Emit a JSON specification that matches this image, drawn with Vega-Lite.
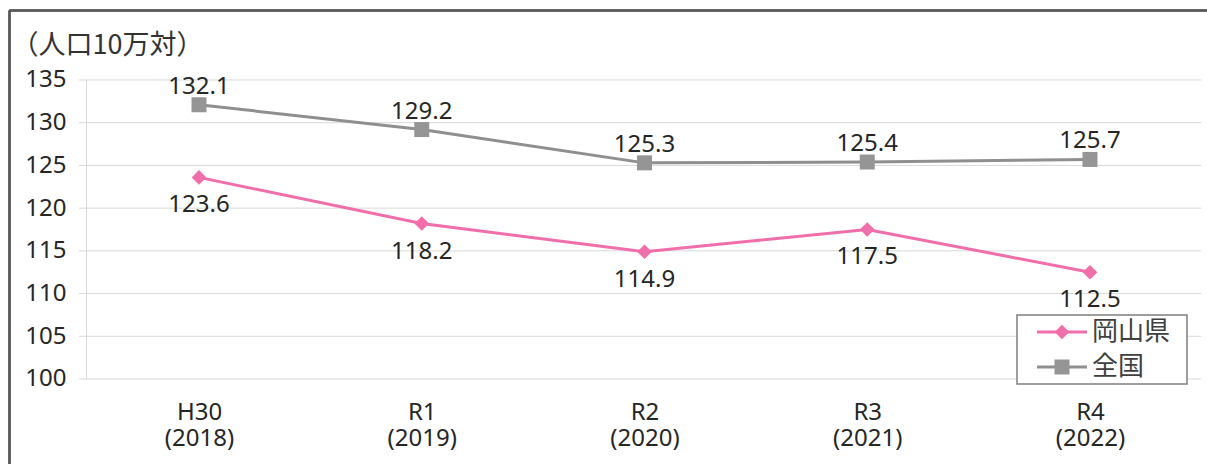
{
  "$schema": "https://vega.github.io/schema/vega-lite/v6.json",
  "width": 1207,
  "height": 464,
  "autosize": {"type": "none"},
  "padding": 0,
  "background": "white",
  "config": {"view": {"stroke": null}, "font": "Noto Sans, Noto Sans CJK JP"},
  "datasets": {
    "main": [
      {"i": 0, "period": "H30", "series": "岡山県", "value": 123.6},
      {"i": 1, "period": "R1", "series": "岡山県", "value": 118.2},
      {"i": 2, "period": "R2", "series": "岡山県", "value": 114.9},
      {"i": 3, "period": "R3", "series": "岡山県", "value": 117.5},
      {"i": 4, "period": "R4", "series": "岡山県", "value": 112.5},
      {"i": 0, "period": "H30", "series": "全国", "value": 132.1},
      {"i": 1, "period": "R1", "series": "全国", "value": 129.2},
      {"i": 2, "period": "R2", "series": "全国", "value": 125.3},
      {"i": 3, "period": "R3", "series": "全国", "value": 125.4},
      {"i": 4, "period": "R4", "series": "全国", "value": 125.7}
    ],
    "grid": [{"v": 100}, {"v": 105}, {"v": 110}, {"v": 115}, {"v": 120}, {"v": 125}, {"v": 130}, {"v": 135}],
    "legend": [{"series": "岡山県"}, {"series": "全国"}]
  },
  "layer": [
    {
      "data": {"name": "grid"},
      "mark": {"type": "rule", "color": "#d9d9d9", "strokeWidth": 1},
      "encoding": {
        "y": {
          "field": "v", "type": "quantitative",
          "scale": {"domain": [90.05, 144.364], "nice": false, "zero": false},
          "axis": {
            "orient": "left", "offset": -66, "values": [100, 105, 110, 115, 120, 125, 130, 135],
            "format": "d", "domain": false, "ticks": false, "tickSize": 0, "grid": false,
            "labelPadding": 0, "labelFont": "Noto Sans", "labelFontSize": 24, "labelColor": "#262626", "labelBaseline": "middle",
            "title": "（人口10万対）", "titleAngle": 0, "titleX": -55, "titleY": 45,
            "titleAlign": "left", "titleBaseline": "middle", "titleFont": "Noto Sans CJK JP", "titleFontSize": 27,
            "titleFontWeight": "normal", "titleColor": "#333333"
          }
        },
        "x": {
          "datum": -0.539, "type": "quantitative",
          "scale": {"domain": [-0.8934, 4.5253], "nice": false, "zero": false},
          "axis": {
            "orient": "bottom", "offset": -85, "values": [0, 1, 2, 3, 4],
            "labelExpr": "datum.value == 0 ? ['H30', '(2018)'] : datum.value == 1 ? ['R1', '(2019)'] : datum.value == 2 ? ['R2', '(2020)'] : datum.value == 3 ? ['R3', '(2021)'] : ['R4', '(2022)']",
            "domain": false, "ticks": false, "tickSize": 0, "grid": false,
            "labelPadding": 21, "labelFont": "Noto Sans", "labelFontSize": 24, "labelLineHeight": 26, "labelBaseline": "top",
            "labelAlign": "center", "labelColor": "#262626", "title": null
          }
        },
        "x2": {"datum": 4.5}
      }
    },
    {
      "data": {"name": "grid"},
      "mark": {"type": "rule", "color": "#d9d9d9", "strokeWidth": 1},
      "encoding": {
        "x": {"datum": -0.505, "type": "quantitative"},
        "y": {"datum": 100, "type": "quantitative"},
        "y2": {"datum": 135}
      }
    },
    {
      "data": {"name": "grid"},
      "mark": {"type": "rule", "color": "#595959", "strokeWidth": 1.5},
      "encoding": {
        "x": {"datum": -0.8507, "type": "quantitative"},
        "y": {"datum": 90.05, "type": "quantitative"},
        "y2": {"datum": 143.135}
      }
    },
    {
      "data": {"name": "grid"},
      "mark": {"type": "rule", "color": "#595959", "strokeWidth": 1.5},
      "encoding": {
        "y": {"datum": 143.135, "type": "quantitative"},
        "x": {"datum": -0.8507, "type": "quantitative"},
        "x2": {"datum": 4.5253}
      }
    },
    {
      "data": {"name": "main"},
      "mark": {"type": "line", "strokeWidth": 3},
      "encoding": {
        "x": {"field": "i", "type": "quantitative"},
        "y": {"field": "value", "type": "quantitative"},
        "color": {
          "field": "series", "type": "nominal",
          "scale": {"domain": ["岡山県", "全国"], "range": ["#f06eaa", "#8f8f8f"]},
          "legend": null
        }
      }
    },
    {
      "data": {"name": "main"},
      "transform": [{"filter": "datum.series === '岡山県'"}],
      "mark": {"type": "point", "filled": true, "opacity": 1, "strokeWidth": 0, "shape": "diamond", "size": 215, "color": "#f06eaa"},
      "encoding": {
        "x": {"field": "i", "type": "quantitative"},
        "y": {"field": "value", "type": "quantitative"}
      }
    },
    {
      "data": {"name": "main"},
      "transform": [{"filter": "datum.series === '全国'"}],
      "mark": {"type": "point", "filled": true, "opacity": 1, "strokeWidth": 0, "shape": "square", "size": 225, "color": "#959595"},
      "encoding": {
        "x": {"field": "i", "type": "quantitative"},
        "y": {"field": "value", "type": "quantitative"}
      }
    },
    {
      "data": {"name": "main"},
      "transform": [{"filter": "datum.series === '岡山県'"}],
      "mark": {"type": "text", "font": "Noto Sans", "fontSize": 24, "color": "#262626", "baseline": "alphabetic", "align": "center", "dy": 35},
      "encoding": {
        "x": {"field": "i", "type": "quantitative"},
        "y": {"field": "value", "type": "quantitative"},
        "text": {"field": "value", "type": "quantitative", "format": ".1f"}
      }
    },
    {
      "data": {"name": "main"},
      "transform": [{"filter": "datum.series === '全国'"}],
      "mark": {"type": "text", "font": "Noto Sans", "fontSize": 24, "color": "#262626", "baseline": "alphabetic", "align": "center", "dy": -11},
      "encoding": {
        "x": {"field": "i", "type": "quantitative"},
        "y": {"field": "value", "type": "quantitative"},
        "text": {"field": "value", "type": "quantitative", "format": ".1f"}
      }
    },
    {
      "data": {"name": "legend"},
      "transform": [{"filter": "datum.series === '岡山県'"}],
      "mark": {"type": "rect", "fill": "white", "stroke": "#7f7f7f", "strokeWidth": 1.5},
      "encoding": {
        "x": {"datum": 3.6723, "type": "quantitative"},
        "x2": {"datum": 4.4355},
        "y": {"datum": 107.492, "type": "quantitative"},
        "y2": {"datum": 99.415}
      }
    },
    {
      "data": {"name": "legend"},
      "transform": [{"filter": "datum.series === '岡山県'"}],
      "mark": {"type": "rule", "color": "#f06eaa", "strokeWidth": 3},
      "encoding": {
        "x": {"datum": 3.7621, "type": "quantitative"},
        "x2": {"datum": 3.9866},
        "y": {"datum": 105.502, "type": "quantitative"}
      }
    },
    {
      "data": {"name": "legend"},
      "transform": [{"filter": "datum.series === '全国'"}],
      "mark": {"type": "rule", "color": "#8f8f8f", "strokeWidth": 3},
      "encoding": {
        "x": {"datum": 3.7621, "type": "quantitative"},
        "x2": {"datum": 3.9866},
        "y": {"datum": 101.405, "type": "quantitative"}
      }
    },
    {
      "data": {"name": "legend"},
      "transform": [{"filter": "datum.series === '岡山県'"}],
      "mark": {"type": "point", "filled": true, "opacity": 1, "strokeWidth": 0, "shape": "diamond", "size": 215, "color": "#f06eaa"},
      "encoding": {
        "x": {"datum": 3.8743, "type": "quantitative"},
        "y": {"datum": 105.502, "type": "quantitative"}
      }
    },
    {
      "data": {"name": "legend"},
      "transform": [{"filter": "datum.series === '全国'"}],
      "mark": {"type": "point", "filled": true, "opacity": 1, "strokeWidth": 0, "shape": "square", "size": 225, "color": "#959595"},
      "encoding": {
        "x": {"datum": 3.8743, "type": "quantitative"},
        "y": {"datum": 101.405, "type": "quantitative"}
      }
    },
    {
      "data": {"name": "legend"},
      "transform": [{"filter": "datum.series === '岡山県'"}],
      "mark": {"type": "text", "font": "Noto Sans CJK JP", "fontSize": 26, "color": "#404040", "align": "left", "baseline": "middle"},
      "encoding": {
        "x": {"datum": 4.009, "type": "quantitative"},
        "y": {"datum": 105.502, "type": "quantitative"},
        "text": {"field": "series", "type": "nominal"}
      }
    },
    {
      "data": {"name": "legend"},
      "transform": [{"filter": "datum.series === '全国'"}],
      "mark": {"type": "text", "font": "Noto Sans CJK JP", "fontSize": 26, "color": "#404040", "align": "left", "baseline": "middle"},
      "encoding": {
        "x": {"datum": 4.009, "type": "quantitative"},
        "y": {"datum": 101.405, "type": "quantitative"},
        "text": {"field": "series", "type": "nominal"}
      }
    }
  ]
}
